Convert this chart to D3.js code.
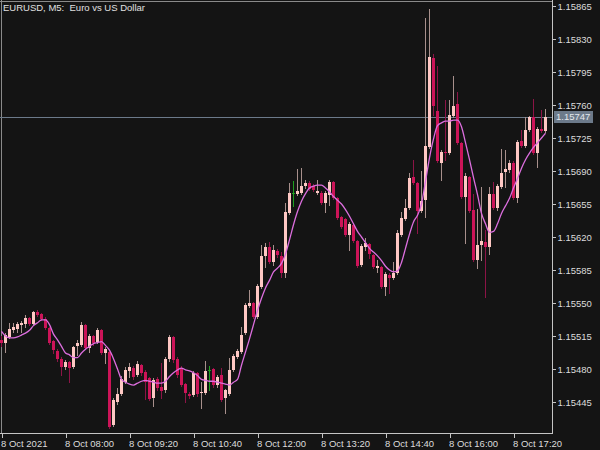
<!DOCTYPE html>
<html><head><meta charset="utf-8">
<script src="https://cdn.jsdelivr.net/npm/d3@7/dist/d3.min.js"></script>
<style>html,body{margin:0;padding:0;background:#141414;overflow:hidden}</style>
</head><body><svg id="c" width="600" height="450"></svg>
<script>
const chartTitle = "EURUSD, M5:  Euro vs US Dollar";

const opens = [1.15511,1.15508,1.15514,1.15521,1.15522,1.15527,1.15528,1.15534,1.15528,1.15540,1.15538,1.15533,1.15523,1.15510,1.15499,1.15491,1.15482,1.15487,1.15482,1.15504,1.15505,1.15527,1.15502,1.15515,1.15509,1.15521,1.15497,1.15498,1.15421,1.15445,1.15453,1.15466,1.15478,1.15481,1.15474,1.15484,1.15477,1.15470,1.15449,1.15469,1.15461,1.15458,1.15491,1.15514,1.15491,1.15481,1.15464,1.15453,1.15452,1.15476,1.15455,1.15455,1.15479,1.15480,1.15463,1.15474,1.15449,1.15453,1.15479,1.15493,1.15498,1.15518,1.15547,1.15550,1.15535,1.15567,1.15600,1.15609,1.15593,1.15605,1.15600,1.15582,1.15645,1.15667,1.15666,1.15667,1.15674,1.15677,1.15674,1.15667,1.15667,1.15656,1.15665,1.15678,1.15661,1.15641,1.15639,1.15622,1.15633,1.15616,1.15590,1.15609,1.15613,1.15601,1.15587,1.15588,1.15567,1.15580,1.15577,1.15582,1.15622,1.15639,1.15651,1.15684,1.15677,1.15648,1.15659,1.15715,1.15810,1.15754,1.15698,1.15710,1.15709,1.15748,1.15761,1.15720,1.15662,1.15684,1.15649,1.15596,1.15612,1.15615,1.15609,1.15666,1.15651,1.15673,1.15689,1.15691,1.15698,1.15661,1.15722,1.15717,1.15733,1.15747,1.15709,1.15735,1.15732];
const highs = [1.15515,1.15518,1.15529,1.15529,1.15530,1.15531,1.15537,1.15535,1.15542,1.15543,1.15539,1.15535,1.15525,1.15511,1.15501,1.15493,1.15490,1.15488,1.15504,1.15511,1.15530,1.15528,1.15517,1.15516,1.15523,1.15522,1.15503,1.15499,1.15449,1.15460,1.15473,1.15482,1.15486,1.15483,1.15488,1.15485,1.15479,1.15472,1.15470,1.15472,1.15486,1.15493,1.15516,1.15515,1.15493,1.15483,1.15465,1.15456,1.15478,1.15477,1.15466,1.15488,1.15483,1.15481,1.15474,1.15481,1.15459,1.15492,1.15496,1.15501,1.15525,1.15550,1.15564,1.15551,1.15570,1.15612,1.15614,1.15615,1.15612,1.15607,1.15604,1.15656,1.15677,1.15679,1.15692,1.15693,1.15680,1.15679,1.15676,1.15680,1.15669,1.15669,1.15680,1.15679,1.15662,1.15642,1.15640,1.15636,1.15634,1.15617,1.15613,1.15619,1.15614,1.15602,1.15596,1.15589,1.15583,1.15582,1.15593,1.15627,1.15647,1.15660,1.15688,1.15702,1.15678,1.15690,1.15852,1.15862,1.15814,1.15801,1.15712,1.15765,1.15765,1.15791,1.15774,1.15721,1.15688,1.15685,1.15666,1.15650,1.15673,1.15627,1.15673,1.15678,1.15676,1.15713,1.15712,1.15702,1.15701,1.15723,1.15733,1.15747,1.15748,1.15766,1.15737,1.15755,1.15756];
const lows = [1.15504,1.15498,1.15513,1.15519,1.15519,1.15519,1.15525,1.15527,1.15527,1.15536,1.15532,1.15522,1.15507,1.15497,1.15488,1.15474,1.15480,1.15466,1.15481,1.15495,1.15504,1.15501,1.15498,1.15505,1.15508,1.15496,1.15486,1.15417,1.15420,1.15443,1.15452,1.15465,1.15472,1.15469,1.15473,1.15474,1.15448,1.15447,1.15441,1.15458,1.15449,1.15456,1.15488,1.15487,1.15472,1.15462,1.15445,1.15449,1.15451,1.15451,1.15439,1.15453,1.15458,1.15461,1.15461,1.15446,1.15433,1.15452,1.15478,1.15492,1.15497,1.15517,1.15546,1.15534,1.15534,1.15566,1.15588,1.15592,1.15590,1.15599,1.15578,1.15578,1.15644,1.15653,1.15665,1.15666,1.15672,1.15670,1.15669,1.15666,1.15655,1.15647,1.15654,1.15660,1.15639,1.15630,1.15621,1.15606,1.15615,1.15588,1.15589,1.15606,1.15598,1.15587,1.15583,1.15566,1.15558,1.15561,1.15575,1.15581,1.15621,1.15638,1.15650,1.15676,1.15624,1.15647,1.15641,1.15714,1.15749,1.15700,1.15680,1.15702,1.15708,1.15747,1.15719,1.15661,1.15614,1.15647,1.15595,1.15587,1.15596,1.15556,1.15602,1.15650,1.15649,1.15672,1.15673,1.15689,1.15660,1.15657,1.15715,1.15715,1.15732,1.15708,1.15694,1.15731,1.15731];
const closes = [1.15508,1.15516,1.15522,1.15525,1.15528,1.15529,1.15534,1.15528,1.15540,1.15537,1.15533,1.15523,1.15508,1.15500,1.15491,1.15482,1.15487,1.15481,1.15503,1.15508,1.15527,1.15502,1.15515,1.15508,1.15521,1.15497,1.15501,1.15418,1.15447,1.15453,1.15469,1.15479,1.15482,1.15472,1.15485,1.15476,1.15466,1.15448,1.15468,1.15460,1.15457,1.15491,1.15514,1.15490,1.15474,1.15463,1.15455,1.15451,1.15476,1.15453,1.15456,1.15478,1.15479,1.15463,1.15472,1.15447,1.15458,1.15479,1.15494,1.15499,1.15516,1.15548,1.15550,1.15535,1.15568,1.15600,1.15609,1.15593,1.15606,1.15601,1.15582,1.15647,1.15667,1.15667,1.15669,1.15674,1.15677,1.15671,1.15670,1.15669,1.15656,1.15667,1.15678,1.15661,1.15640,1.15631,1.15622,1.15634,1.15616,1.15589,1.15610,1.15614,1.15602,1.15588,1.15589,1.15567,1.15581,1.15577,1.15582,1.15624,1.15640,1.15651,1.15683,1.15677,1.15648,1.15658,1.15717,1.15811,1.15759,1.15701,1.15710,1.15709,1.15749,1.15759,1.15720,1.15662,1.15685,1.15648,1.15596,1.15612,1.15616,1.15609,1.15666,1.15651,1.15674,1.15688,1.15692,1.15698,1.15661,1.15721,1.15717,1.15733,1.15747,1.15709,1.15735,1.15732,1.15747];
const maValues = [1.15520,1.15515,1.15513,1.15513,1.15514,1.15516,1.15518,1.15521,1.15526,1.15529,1.15532,1.15532,1.15527,1.15517,1.15511,1.15504,1.15497,1.15495,1.15492,1.15492,1.15497,1.15501,1.15504,1.15507,1.15508,1.15509,1.15505,1.15500,1.15491,1.15480,1.15469,1.15466,1.15464,1.15463,1.15465,1.15467,1.15468,1.15467,1.15466,1.15465,1.15465,1.15467,1.15472,1.15476,1.15479,1.15481,1.15479,1.15478,1.15476,1.15473,1.15469,1.15468,1.15467,1.15467,1.15466,1.15465,1.15464,1.15463,1.15466,1.15469,1.15484,1.15498,1.15512,1.15527,1.15542,1.15555,1.15566,1.15574,1.15583,1.15587,1.15592,1.15602,1.15617,1.15633,1.15647,1.15658,1.15666,1.15672,1.15674,1.15675,1.15675,1.15672,1.15668,1.15663,1.15659,1.15655,1.15649,1.15642,1.15634,1.15626,1.15620,1.15614,1.15608,1.15604,1.15600,1.15595,1.15589,1.15585,1.15583,1.15584,1.15593,1.15608,1.15623,1.15636,1.15643,1.15655,1.15679,1.15704,1.15724,1.15738,1.15741,1.15743,1.15743,1.15744,1.15744,1.15737,1.15720,1.15702,1.15683,1.15665,1.15645,1.15634,1.15625,1.15626,1.15634,1.15645,1.15653,1.15661,1.15672,1.15682,1.15693,1.15702,1.15709,1.15715,1.15720,1.15725,1.15730];

const priceTicks = [1.15865,1.15830,1.15795,1.15760,1.15725,1.15690,1.15655,1.15620,1.15585,1.15550,1.15515,1.15480,1.15445];
const timeTickBars = [0,16,32,48,64,80,96,112,128];
const timeTickLabels = ["8 Oct 2021","8 Oct 08:00","8 Oct 09:20","8 Oct 10:40","8 Oct 12:00","8 Oct 13:20","8 Oct 14:40","8 Oct 16:00","8 Oct 17:20"];
const lastPrice = 1.15747;

const W = 600, H = 450, plotRight = 552, plotBottom = 433;
const FONT = "'Liberation Sans', Arial, sans-serif";
const svg = d3.select("#c");
svg.append("rect").attr("width", W).attr("height", H).attr("fill", "#141414");

const x = d3.scaleLinear().domain([0, opens.length - 1]).range([1.5, 1.5 + 4 * (opens.length - 1)]);
const y = d3.scaleLinear().domain([1.15445, 1.15865]).range([402, 6]);

// frame
svg.append("line").attr("x1", 1.5).attr("x2", 1.5).attr("y1", 0).attr("y2", plotBottom).attr("stroke", "#8a8a8a").attr("shape-rendering","crispEdges");
svg.append("line").attr("x1", 0).attr("x2", plotRight).attr("y1", 1.5).attr("y2", 1.5).attr("stroke", "#8a8a8a").attr("shape-rendering","crispEdges");

// bid line
svg.append("line").attr("x1", 0).attr("x2", plotRight).attr("y1", Math.round(y(lastPrice)) + 0.5).attr("y2", Math.round(y(lastPrice)) + 0.5)
  .attr("stroke", "#6c7a8a").attr("shape-rendering","crispEdges");

const bars = d3.range(opens.length).map(i => ({i, o: opens[i], h: highs[i], l: lows[i], c: closes[i]}));
const g = svg.append("g").attr("shape-rendering", "crispEdges");
function kind(d){ return d.c > d.o ? "up" : (d.c < d.o ? "down" : "doji"); }
const wickCol = {up: "#a8908c", down: "#8c1446", doji: "#1fa01f"};
const bodyCol = {up: "#ffc8c4", down: "#cc1458", doji: "#1fa01f"};

g.selectAll("line.wick").data(bars).join("line").attr("class","wick")
  .attr("x1", d => x(d.i)).attr("x2", d => x(d.i))
  .attr("y1", d => Math.round(y(d.h))).attr("y2", d => Math.round(y(d.l)) + 1)
  .attr("stroke", d => wickCol[kind(d)]).attr("stroke-width", 1);

g.selectAll("rect.body").data(bars).join("rect").attr("class","body")
  .attr("x", d => x(d.i) - 1.5).attr("width", 3)
  .attr("y", d => Math.round(y(Math.max(d.o, d.c))))
  .attr("height", d => Math.max(1, Math.round(y(Math.min(d.o, d.c))) - Math.round(y(Math.max(d.o, d.c)))))
  .attr("fill", d => kind(d) === "doji" ? "none" : bodyCol[kind(d)]);

g.selectAll("line.doji").data(bars.filter(d => kind(d) === "doji")).join("line").attr("class","doji")
  .attr("x1", d => x(d.i) - 1.5).attr("x2", d => x(d.i) + 1.5)
  .attr("y1", d => Math.round(y(d.o)) + 0.5).attr("y2", d => Math.round(y(d.o)) + 0.5)
  .attr("stroke", bodyCol.doji);

// moving average
const maLine = d3.line().x((d, i) => x(i)).y(d => y(d)).curve(d3.curveMonotoneX);
svg.append("path").datum(maValues).attr("d", maLine).attr("fill", "none")
  .attr("stroke", "#dc6ede").attr("stroke-width", 1.3);

// right axis
const ra = svg.append("g").attr("transform", `translate(${plotRight + 0.5},0)`)
  .call(d3.axisRight(y).tickValues(priceTicks).tickSize(3).tickPadding(2).tickFormat(d3.format(".5f")));
ra.select(".domain").remove();
ra.selectAll("line").attr("stroke", "#c4c4c4").attr("shape-rendering","crispEdges");
ra.selectAll("text").attr("fill", "#dcdcdc").style("font-family", FONT).style("font-size", "9.5px");
svg.append("line").attr("x1", plotRight + 0.5).attr("x2", plotRight + 0.5).attr("y1", 0).attr("y2", plotBottom + 1)
  .attr("stroke", "#c4c4c4").attr("shape-rendering","crispEdges");

// bottom axis
const ba = svg.append("g").attr("transform", `translate(0,${plotBottom + 0.5})`)
  .call(d3.axisBottom(x).tickValues(timeTickBars).tickSize(4).tickPadding(3).tickFormat((d, i) => timeTickLabels[i]));
ba.select(".domain").remove();
ba.selectAll("line").attr("stroke", "#c4c4c4").attr("shape-rendering","crispEdges");
ba.selectAll("text").attr("fill", "#dcdcdc").attr("text-anchor", "start").attr("dx", "-1")
  .style("font-family", FONT).style("font-size", "9.5px");
svg.append("line").attr("x1", 0).attr("x2", plotRight + 1).attr("y1", plotBottom + 0.5).attr("y2", plotBottom + 0.5)
  .attr("stroke", "#c4c4c4").attr("shape-rendering","crispEdges");

// last price label
const ly = Math.round(y(lastPrice));
svg.append("rect").attr("x", plotRight + 2).attr("y", ly - 6).attr("width", 39).attr("height", 12).attr("fill", "#6c7a8a");
svg.append("text").attr("x", plotRight + 4).attr("y", ly).attr("dy", "0.35em").text(d3.format(".5f")(lastPrice))
  .attr("fill", "#e4e8ec").style("font-family", FONT).style("font-size", "9.5px");

// title
svg.append("text").attr("x", 3).attr("y", 11).text(chartTitle).style("white-space", "pre")
  .attr("fill", "#e0e0e0").style("font-family", FONT).style("font-size", "9.5px");
</script></body></html>
